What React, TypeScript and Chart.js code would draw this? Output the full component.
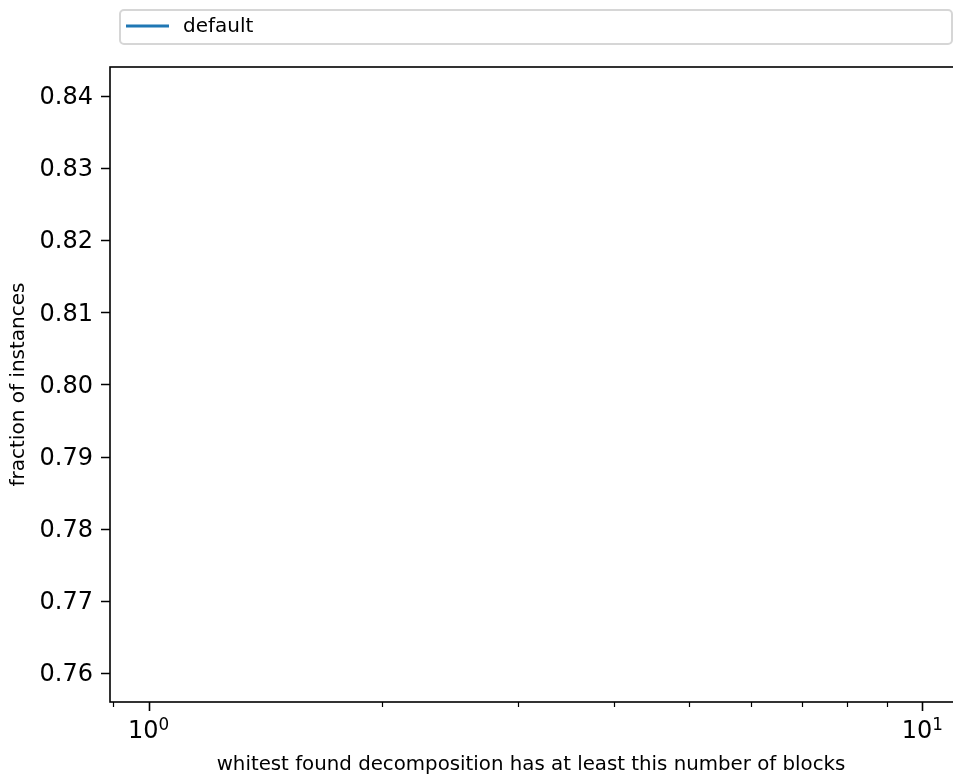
import React, { useEffect, useRef } from "react";
import { Chart, registerables } from "chart.js";

Chart.register(...registerables);

// Data (a single point: a one-point line draws nothing, as in the reference)
const seriesLabel = "default";
const xValues = [2];
const yValues = [0.8];

// Axis configuration
const xMin = Math.pow(10, -0.05);
const xMax = Math.pow(10, 1.05);
const xMajorTicks = [1, 10];
const xMinorTicks = [0.9, 2, 3, 4, 5, 6, 7, 8, 9];
const xTickBase = ["10", "10"];
const xTickExponents = ["0", "1"];
const yMin = 0.756;
const yMax = 0.844;
const yTicks = [0.76, 0.77, 0.78, 0.79, 0.8, 0.81, 0.82, 0.83, 0.84];
const xTitle = "whitest found decomposition has at least this number of blocks";
const yTitle = "fraction of instances";

const FONT = "'DejaVu Sans', sans-serif";
const LINE_COLOR = "#1f77b4";

const framePlugin = {
  id: "mplFrame",
  afterDraw(chart: any) {
    const { ctx, chartArea } = chart;
    const xs = chart.scales.x;
    const ys = chart.scales.y;
    ctx.save();
    ctx.strokeStyle = "#000";
    ctx.lineWidth = 1.6;
    // ticks
    ctx.beginPath();
    for (const v of yTicks) {
      const py = Math.round(ys.getPixelForValue(v)) + 0.5;
      ctx.moveTo(chartArea.left - 9, py);
      ctx.lineTo(chartArea.left, py);
    }
    for (const v of xMajorTicks) {
      const px = Math.round(xs.getPixelForValue(v)) + 0.5;
      ctx.moveTo(px, chartArea.bottom);
      ctx.lineTo(px, chartArea.bottom + 9);
    }
    ctx.stroke();
    ctx.lineWidth = 1.2;
    ctx.beginPath();
    for (const v of xMinorTicks) {
      const px = Math.round(xs.getPixelForValue(v)) + 0.5;
      ctx.moveTo(px, chartArea.bottom);
      ctx.lineTo(px, chartArea.bottom + 5);
    }
    ctx.stroke();
    // frame
    ctx.lineWidth = 1.6;
    ctx.strokeRect(
      chartArea.left,
      chartArea.top,
      chartArea.right - chartArea.left,
      chartArea.bottom - chartArea.top
    );
    // x major tick labels with superscript exponents (10^n)
    ctx.fillStyle = "#000";
    ctx.textBaseline = "alphabetic";
    ctx.textAlign = "left";
    xMajorTicks.forEach((v, i) => {
      const px = xs.getPixelForValue(v);
      ctx.font = `24px ${FONT}`;
      const wb = ctx.measureText(xTickBase[i]).width;
      ctx.font = `16.8px ${FONT}`;
      const we = ctx.measureText(xTickExponents[i]).width;
      const start = px - (wb + we) / 2;
      ctx.font = `24px ${FONT}`;
      ctx.fillText(xTickBase[i], start, chartArea.bottom + 36);
      ctx.font = `16.8px ${FONT}`;
      ctx.fillText(xTickExponents[i], start + wb, chartArea.bottom + 28);
    });
    // x axis title
    ctx.font = `19.8px ${FONT}`;
    ctx.textAlign = "center";
    ctx.fillText(xTitle, 531, 770);
    // legend
    const lx = 120, ly = 10, lw = 832, lh = 34, r = 4;
    ctx.fillStyle = "rgba(255,255,255,0.8)";
    ctx.strokeStyle = "#d6d6d6";
    ctx.lineWidth = 2;
    ctx.beginPath();
    ctx.roundRect(lx, ly, lw, lh, r);
    ctx.fill();
    ctx.stroke();
    const ds = chart.data.datasets[0];
    ctx.strokeStyle = ds.borderColor;
    ctx.lineWidth = 3;
    ctx.beginPath();
    ctx.moveTo(126, 26);
    ctx.lineTo(169, 26);
    ctx.stroke();
    ctx.fillStyle = "#000";
    ctx.font = `20px ${FONT}`;
    ctx.textBaseline = "middle";
    ctx.textAlign = "left";
    ctx.fillText(ds.label, 183, 27);
    ctx.restore();
  },
};

export default function App() {
  const canvasRef = useRef<HTMLCanvasElement | null>(null);

  useEffect(() => {
    const canvas = canvasRef.current;
    if (!canvas) return;
    const points = xValues.map((x, i) => ({ x, y: yValues[i] }));
    const chart = new Chart(canvas, {
      type: "line",
      data: {
        datasets: [
          {
            label: seriesLabel,
            data: points,
            borderColor: LINE_COLOR,
            backgroundColor: LINE_COLOR,
            borderWidth: 3,
            pointRadius: 0,
          },
        ],
      },
      options: {
        animation: false,
        responsive: false,
        devicePixelRatio: 1,
        layout: { padding: { top: 67, right: 9, left: 0, bottom: 0 } },
        plugins: {
          legend: { display: false },
          tooltip: { enabled: false },
        },
        scales: {
          x: {
            type: "logarithmic",
            min: xMin,
            max: xMax,
            afterBuildTicks: (scale: any) => {
              scale.ticks = [...xMinorTicks, ...xMajorTicks]
                .sort((a, b) => a - b)
                .map((v) => ({ value: v }));
            },
            afterFit: (scale: any) => {
              scale.height = 76;
            },
            grid: { display: false, drawTicks: false },
            border: { display: false },
            ticks: {
              autoSkip: false,
              maxRotation: 0,
              color: "#000",
              font: { family: FONT, size: 24 },
              callback: () => "",
            },
            title: { display: false },
          },
          y: {
            type: "linear",
            min: yMin,
            max: yMax,
            afterBuildTicks: (scale: any) => {
              scale.ticks = yTicks.map((v) => ({ value: v }));
            },
            afterFit: (scale: any) => {
              scale.width = 110;
            },
            grid: { display: false, drawTicks: false },
            border: { display: false },
            ticks: {
              autoSkip: false,
              padding: 17,
              labelOffset: 2,
              color: "#000",
              font: { family: FONT, size: 24 },
              callback: (v: any) => Number(v).toFixed(2),
            },
            title: {
              display: true,
              text: yTitle,
              color: "#000",
              font: { family: FONT, size: 20 },
              padding: { top: 7, bottom: 0 },
            },
          },
        },
      },
      plugins: [framePlugin],
    } as any);
    return () => chart.destroy();
  }, []);

  return (
    <div
      style={{
        position: "absolute",
        left: 0,
        top: 0,
        width: 953,
        height: 778,
        overflow: "hidden",
        background: "#fff",
      }}
    >
      <canvas ref={canvasRef} width={970} height={778} style={{ display: "block" }} />
    </div>
  );
}
